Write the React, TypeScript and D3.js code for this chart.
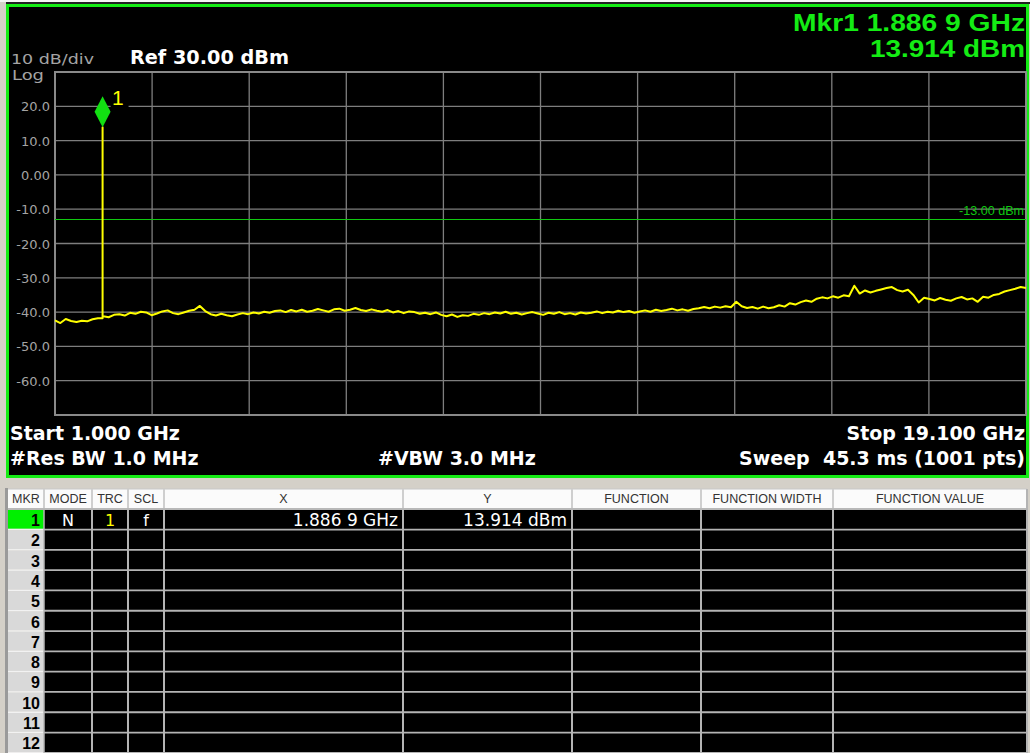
import React from "react";
import * as d3 from "d3";

// ---------- data ----------
const startGHz = 1.0;
const stopGHz = 19.1;
const refLevel = 30;
const bottomLevel = -70;
const yTicks = [20, 10, 0, -10, -20, -30, -40, -50, -60];
const yTickLabels = ["20.0", "10.0", "0.00", "-10.0", "-20.0", "-30.0", "-40.0", "-50.0", "-60.0"];
const xDivisions = [1.0, 2.81, 4.62, 6.43, 8.24, 10.05, 11.86, 13.67, 15.48, 17.29, 19.1];
const limitDbm = -13;
const limitLabel = "-13.00 dBm";
const markerFreqGHz = 1.8869;
const markerDbm = 13.914;

// trace samples (dBm), evenly spaced from start to stop
const traceDbm = [
  -42.4, -43.2, -42.0, -42.6, -42.9, -42.5, -42.7, -42.1, -41.8, -41.2,
  -41.5, -40.8, -40.6, -41.0, -40.2, -40.5, -39.9, -40.1, -40.9, -40.4,
  -39.8, -39.5, -40.3, -40.6, -40.1, -39.6, -39.3, -38.2, -39.7, -40.6,
  -41.0, -40.5, -40.9, -41.2, -40.7, -40.3, -40.6, -40.1, -40.4, -39.9,
  -40.2, -39.7, -39.5, -40.0, -39.4, -39.8, -39.3, -39.9, -39.6, -39.1,
  -39.5, -39.9, -39.2, -39.0, -39.6, -39.3, -38.8, -39.4, -39.7, -39.2,
  -39.6, -39.9, -39.4, -40.1, -39.7, -40.3, -39.8, -40.0, -40.5, -40.2,
  -40.6, -40.1, -40.8, -41.2, -40.7, -41.4, -40.9, -41.1, -40.5, -40.8,
  -40.3, -40.6, -40.1, -40.4, -39.9, -40.5, -40.2, -40.7, -40.3, -40.0,
  -40.4, -40.8, -40.2, -40.5, -40.0, -40.6, -40.3, -40.7, -40.1, -40.4,
  -40.2, -39.8, -40.3, -39.9, -40.1, -39.6, -40.0, -39.7, -40.2, -39.8,
  -39.5, -39.9, -39.3, -39.7, -39.4, -39.0, -39.5, -39.2, -39.6, -39.1,
  -38.9, -38.5, -38.9, -38.4, -38.7, -38.3, -38.6, -37.0, -38.3, -38.8,
  -38.5, -39.0, -38.4, -38.9, -38.6, -38.0, -38.4, -37.4, -37.8, -37.1,
  -36.6, -37.0, -36.1, -35.7, -36.0, -35.4, -35.8, -35.1, -35.4, -32.3,
  -34.6, -33.7, -34.3, -33.8, -33.4, -33.0, -32.7, -33.6, -34.0, -33.5,
  -35.0, -37.2, -35.8, -36.2, -36.6, -35.9, -36.4, -36.7, -36.0, -35.6,
  -36.3, -36.0, -37.0, -35.5, -35.8, -35.0, -34.7, -34.0, -33.6, -33.2,
  -32.7, -33.0,
];

const tableHeaders = ["MKR", "MODE", "TRC", "SCL", "X", "Y", "FUNCTION", "FUNCTION WIDTH", "FUNCTION VALUE"];
const markerRows = ["1", "2", "3", "4", "5", "6", "7", "8", "9", "10", "11", "12"];
const row1Values = ["N", "1", "f", "1.886 9 GHz", "13.914 dBm"];

// ---------- layout ----------
const W = 1030;
const H = 753;
const plot = { left: 55, right: 1026, top: 72, bottom: 415 };
const colEdges = [8, 44, 92, 128, 164, 403, 572, 701, 833, 1027];
const headerTop = 489;
const headerBottom = 508;
const rowTop0 = 510;
const rowH = 20.3;

const GREEN = "#14ec14";
const GRID = "#7e7e7e";
const YELLOW = "#ffff00";
const LABEL_GRAY = "#a4a4a4";

export default function App() {
  const x = d3.scaleLinear().domain([startGHz, stopGHz]).range([plot.left, plot.right]);
  const y = d3.scaleLinear().domain([bottomLevel, refLevel]).range([plot.bottom, plot.top]);

  const n = traceDbm.length;
  const pts: [number, number][] = traceDbm.map((v, i) => [startGHz + (i * (stopGHz - startGHz)) / (n - 1), v]);
  // marker peak: vertical spike at the marker frequency
  const idx = pts.findIndex((p) => p[0] > markerFreqGHz);
  pts.splice(
    idx,
    0,
    [markerFreqGHz, traceDbm[idx - 1]],
    [markerFreqGHz, markerDbm],
    [markerFreqGHz, traceDbm[idx]]
  );

  const line = d3
    .line<[number, number]>()
    .x((d) => x(d[0]))
    .y((d) => y(d[1]));

  const mx = x(markerFreqGHz);
  const my = y(markerDbm);
  const diamond = `M${mx},${my} L${mx + 8},${my - 15.5} L${mx},${my - 31} L${mx - 8},${my - 15.5} Z`;

  const dejavu = "'DejaVu Sans', sans-serif";
  const arial = "'Liberation Sans', Arial, sans-serif";

  return (
    <svg
      width={W}
      height={H}
      viewBox={`0 0 ${W} ${H}`}
      style={{ position: "absolute", left: 0, top: 0, display: "block" }}
    >
      <rect x={0} y={0} width={W} height={H} fill="#d4d0c8" />
      <rect x={0} y={0} width={W} height={2} fill="#f4f4f4" />
      <rect x={6} y={2} width={W - 6} height={2} fill="#202020" />
      {/* instrument screen */}
      <rect x={6} y={4} width={1023} height={474} fill="#000" />
      <rect x={7.5} y={5.5} width={1020} height={471} fill="none" stroke={GREEN} strokeWidth={3} />

      {/* header texts */}
      <text x={11} y={64} fontFamily={dejavu} fontSize={13.5} fill={LABEL_GRAY} textLength={83} lengthAdjust="spacingAndGlyphs">
        10 dB/div
      </text>
      <text x={12} y={80} fontFamily={dejavu} fontSize={13.5} fill={LABEL_GRAY} textLength={32} lengthAdjust="spacingAndGlyphs">
        Log
      </text>
      <text x={130} y={64} fontFamily={dejavu} fontWeight="bold" fontSize={19} fill="#fff" textLength={159} lengthAdjust="spacingAndGlyphs">
        Ref 30.00 dBm
      </text>
      <text x={1025} y={31} textAnchor="end" fontFamily={arial} fontWeight="bold" fontSize={23} fill={GREEN} textLength={232} lengthAdjust="spacingAndGlyphs">
        Mkr1 1.886 9 GHz
      </text>
      <text x={1025} y={57} textAnchor="end" fontFamily={arial} fontWeight="bold" fontSize={23} fill={GREEN} textLength={155} lengthAdjust="spacingAndGlyphs">
        13.914 dBm
      </text>

      {/* grid */}
      {yTicks.map((t) => (
        <line key={"h" + t} x1={plot.left} x2={plot.right} y1={y(t)} y2={y(t)} stroke={GRID} strokeWidth={1.3} />
      ))}
      {xDivisions.slice(1, -1).map((f) => (
        <line key={"v" + f} x1={x(f)} x2={x(f)} y1={plot.top} y2={plot.bottom} stroke={GRID} strokeWidth={1.3} />
      ))}
      <rect
        x={plot.left}
        y={plot.top}
        width={plot.right - plot.left}
        height={plot.bottom - plot.top}
        fill="none"
        stroke="#8a8a8a"
        strokeWidth={2}
      />
      {yTicks.map((t, i) => (
        <text key={"yl" + t} x={50} y={y(t) + 5} textAnchor="end" fontFamily={dejavu} fontSize={13} fill={LABEL_GRAY}>
          {yTickLabels[i]}
        </text>
      ))}

      {/* limit line */}
      <line x1={plot.left} x2={plot.right} y1={y(limitDbm)} y2={y(limitDbm)} stroke="#10c810" strokeWidth={1.2} />
      <text x={1024} y={y(limitDbm) - 4} textAnchor="end" fontFamily={arial} fontSize={12} fill="#10c810" textLength={65} lengthAdjust="spacingAndGlyphs">
        {limitLabel}
      </text>

      {/* trace */}
      <path d={line(pts) || ""} fill="none" stroke={YELLOW} strokeWidth={2} strokeLinejoin="round" />

      {/* marker */}
      <rect x={mx + 8} y={my - 38} width={18} height={24} fill="#000" />
      <path d={diamond} fill="#12e012" />
      <text x={112} y={my - 22} fontFamily={arial} fontSize={21} fill={YELLOW}>
        1
      </text>

      {/* bottom annotations */}
      <text x={10} y={440} fontFamily={dejavu} fontWeight="bold" fontSize={19} fill="#fff">
        Start 1.000 GHz
      </text>
      <text x={10} y={465} fontFamily={dejavu} fontWeight="bold" fontSize={19} fill="#fff">
        #Res BW 1.0 MHz
      </text>
      <text x={378} y={465} fontFamily={dejavu} fontWeight="bold" fontSize={19} fill="#fff">
        #VBW 3.0 MHz
      </text>
      <text x={1025} y={440} textAnchor="end" fontFamily={dejavu} fontWeight="bold" fontSize={19} fill="#fff">
        Stop 19.100 GHz
      </text>
      <text x={1025} y={465} textAnchor="end" fontFamily={dejavu} fontWeight="bold" fontSize={19} fill="#fff" style={{ whiteSpace: "pre" }}>
        {"Sweep  45.3 ms (1001 pts)"}
      </text>

      {/* marker table */}
      <rect x={5} y={headerTop - 1} width={3} height={H - headerTop + 1} fill="#9a9a9a" />
      <rect x={8} y={headerTop} width={colEdges[colEdges.length - 1] - 8} height={headerBottom - headerTop} fill="#fbfbfb" />
      <line x1={8} x2={1027} y1={headerTop} y2={headerTop} stroke="#c8c8c8" strokeWidth={1} />
      {colEdges.slice(1, -1).map((cx) => (
        <line key={"hs" + cx} x1={cx} x2={cx} y1={headerTop} y2={headerBottom} stroke="#cfcfcf" strokeWidth={2} />
      ))}
      {tableHeaders.map((h, i) => (
        <text
          key={h}
          x={(colEdges[i] + colEdges[i + 1]) / 2}
          y={503}
          textAnchor="middle"
          fontFamily={arial}
          fontSize={12.5}
          fill="#333"
        >
          {h}
        </text>
      ))}
      <rect x={8} y={headerBottom} width={1019} height={2} fill="#b8b8b8" />
      {/* body */}
      <rect x={colEdges[1]} y={rowTop0} width={colEdges[colEdges.length - 1] - colEdges[1]} height={H - rowTop0} fill="#000" />
      {markerRows.map((r, k) => {
        const top = rowTop0 + k * rowH;
        return (
          <g key={"r" + r}>
            <rect x={8} y={top} width={colEdges[1] - 8} height={rowH - 1.5} fill={k === 0 ? "#00f000" : "#d9d9d9"} />
            <rect x={8} y={top + rowH - 1.5} width={colEdges[1] - 8} height={1.5} fill="#f2f2f2" />
            <line x1={colEdges[1]} x2={1027} y1={top + rowH - 0.75} y2={top + rowH - 0.75} stroke="#b4b4b4" strokeWidth={1.8} />
            <text x={40} y={top + 16} textAnchor="end" fontFamily={arial} fontWeight="bold" fontSize={16} fill="#000">
              {r}
            </text>
          </g>
        );
      })}
      {colEdges.slice(2, -1).map((cx) => (
        <line key={"bs" + cx} x1={cx} x2={cx} y1={rowTop0} y2={H} stroke="#b4b4b4" strokeWidth={2} />
      ))}
      <line x1={colEdges[1]} x2={colEdges[1]} y1={rowTop0} y2={H} stroke="#b4b4b4" strokeWidth={1.5} />
      <line x1={1027} x2={1027} y1={headerTop} y2={H} stroke="#b4b4b4" strokeWidth={2} />
      {/* row 1 values */}
      <text x={(colEdges[1] + colEdges[2]) / 2} y={rowTop0 + 16} textAnchor="middle" fontFamily={dejavu} fontSize={16} fill="#fff">
        {row1Values[0]}
      </text>
      <text x={(colEdges[2] + colEdges[3]) / 2} y={rowTop0 + 16} textAnchor="middle" fontFamily={dejavu} fontSize={16} fill={YELLOW}>
        {row1Values[1]}
      </text>
      <text x={(colEdges[3] + colEdges[4]) / 2} y={rowTop0 + 16} textAnchor="middle" fontFamily={dejavu} fontSize={16} fill="#fff">
        {row1Values[2]}
      </text>
      <text x={colEdges[5] - 5} y={rowTop0 + 16} textAnchor="end" fontFamily={dejavu} fontSize={17} fill="#fff">
        {row1Values[3]}
      </text>
      <text x={colEdges[6] - 5} y={rowTop0 + 16} textAnchor="end" fontFamily={dejavu} fontSize={17} fill="#fff">
        {row1Values[4]}
      </text>
    </svg>
  );
}
